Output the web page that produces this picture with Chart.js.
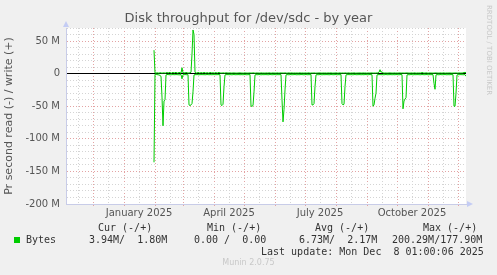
<!DOCTYPE html>
<html>
<head>
<meta charset="utf-8">
<script src="https://cdn.jsdelivr.net/npm/chart.js@4.4.1/dist/chart.umd.min.js"></script>
<style>
  html, body { margin: 0; padding: 0; background: #f0f0f0; }
  #wrap { position: relative; width: 497px; height: 275px; overflow: hidden; }
  #diskChart { position: absolute; left: 0; top: 0; }
  .t { position: absolute; white-space: pre; }
  .mono { font-family: "DejaVu Sans Mono", monospace; font-size: 10px; line-height: 12px; color: #333; }
  #title { left: 0; width: 497px; top: 10px; text-align: center; font-family: "DejaVu Sans", sans-serif; font-size: 13px; line-height: 16px; color: #555; }
  #munin { left: 0; width: 497px; top: 258px; text-align: center; font-family: "DejaVu Sans", sans-serif; font-size: 8px; line-height: 10px; color: #c8c8c8; }
  #rrd { left: 484px; top: 5px; writing-mode: vertical-rl; font-family: "DejaVu Sans", sans-serif; font-size: 7px; line-height: 9px; color: #c8c8c8; }
  #swatch { position: absolute; left: 14px; top: 237px; width: 6px; height: 6px; background: #00cc00; }
</style>
</head>
<body>
<div id="wrap">
  <canvas id="diskChart" width="497" height="275"></canvas>
  <div class="t" id="title">Disk throughput for /dev/sdc - by year</div>
  <div class="t" id="rrd">RRDTOOL / TOBI OETIKER</div>
  <div class="t mono" style="left:98px;top:222px">Cur (-/+)</div>
  <div class="t mono" style="left:207px;top:222px">Min (-/+)</div>
  <div class="t mono" style="left:315px;top:222px">Avg (-/+)</div>
  <div class="t mono" style="left:423px;top:222px">Max (-/+)</div>
  <div id="swatch"></div>
  <div class="t mono" style="left:26px;top:234px">Bytes</div>
  <div class="t mono" style="left:89px;top:234px">3.94M/  1.80M</div>
  <div class="t mono" style="left:194px;top:234px">0.00 /  0.00</div>
  <div class="t mono" style="left:299px;top:234px">6.73M/  2.17M</div>
  <div class="t mono" style="left:392px;top:234px">200.29M/177.90M</div>
  <div class="t mono" style="left:261px;top:246px">Last update: Mon Dec  8 01:00:06 2025</div>
  <div class="t" id="munin">Munin 2.0.75</div>
</div>
<script>
// 400 day window, one sample per day, values in MB/s
const windowStart = "2024-11-04";
const windowDays = 400;
const dataStart = "2025-01-31";

// read is drawn negative, write positive
const readValues = [
  -136, -1, -1, -1.2, -2, -1.8, -3, -4, -36, -80,
  -42, -40, -2, -1.5, -1.2, -1.8, -1.5, -2, -1.4, -1.6,
  -1.5, -1.8, -1.3, -1.7, -1.5, -2, -1.6, -1.4, -8, -1.5,
  -1.7, -1.4, -1.6, -1.8, -1.5, -48, -49, -48, -46, -28,
  -2, -1.5, -1.7, -1.4, -1.6, -1.8, -1.5, -1.6, -1.4, -1.7,
  -1.5, -1.8, -1.6, -1.4, -1.5, -1.7, -1.6, -1.5, -1.8, -1.4,
  -1.6, -1.5, -1.7, -1.5, -1.6, -1.4, -1.8, -48, -49, -47,
  -20, -2, -1.5, -1.6, -1.4, -1.7, -1.5, -1.6, -1.8, -1.5,
  -1.4, -1.6, -1.7, -1.5, -1.6, -1.4, -1.8, -1.5, -1.6, -1.7,
  -1.5, -1.4, -1.6, -1.8, -1.5, -1.6, -1.4, -50, -50, -49,
  -28, -2, -1.5, -1.7, -1.6, -1.4, -1.5, -1.8, -1.6, -1.5,
  -1.7, -1.4, -1.6, -1.5, -1.8, -1.6, -1.4, -1.5, -1.7, -1.6,
  -1.5, -1.4, -1.8, -1.6, -1.5, -1.7, -1.4, -1.6, -40, -74,
  -55, -25, -2, -1.5, -1.6, -1.8, -1.4, -1.5, -1.7, -1.6,
  -1.5, -1.4, -1.6, -1.8, -1.5, -1.7, -1.6, -1.4, -1.5, -1.6,
  -1.8, -1.5, -1.4, -1.6, -1.7, -1.5, -1.6, -1.4, -48, -48,
  -46, -20, -2, -1.5, -1.7, -1.6, -1.4, -1.5, -1.8, -1.6,
  -1.5, -1.7, -1.4, -1.6, -1.5, -1.8, -1.6, -1.4, -1.5, -1.7,
  -1.6, -1.5, -1.4, -1.8, -1.6, -1.5, -1.7, -1.4, -46, -48,
  -47, -20, -2, -1.5, -1.6, -1.4, -1.7, -1.5, -1.6, -1.8,
  -1.5, -1.4, -1.6, -1.7, -1.5, -1.6, -1.4, -1.8, -1.5, -1.6,
  -1.7, -1.4, -1.5, -1.6, -1.8, -1.5, -1.4, -1.6, -1.7, -50,
  -48, -38, -30, -2, -1.5, -1.6, -1.4, -1.7, -1.5, -1.6,
  -1.8, -1.5, -1.4, -1.6, -1.7, -1.5, -1.6, -1.4, -1.8, -1.5,
  -1.6, -1.7, -1.4, -1.5, -1.6, -1.8, -1.5, -1.4, -1.6, -54,
  -42, -39, -37, -2, -1.5, -1.7, -1.6, -1.4, -1.5, -1.8,
  -1.6, -1.5, -1.7, -1.4, -1.6, -1.5, -1.8, -1.6, -1.4, -1.5,
  -1.7, -1.6, -1.5, -1.4, -1.8, -1.6, -1.5, -1.7, -1.4, -1.6,
  -15, -24, -2, -1.5, -1.6, -1.8, -1.4, -1.5, -1.7, -1.6,
  -1.5, -1.4, -1.6, -1.8, -1.5, -1.7, -1.6, -1.4, -1.5, -1.6,
  -50, -50, -30, -2, -1.5, -1.7, -1.4, -1.6, -1.5, -1.8,
  -1.6, -1.5, -4
];

const writeValues = [
  36, 1, 0.8, 1.2, 1, 0.6, 1.5, 1, 0.8, 1,
  1.2, 0.8, 1, 2, 0.8, 1.5, 2, 0.6, 1, 2.2,
  0.8, 1.4, 2, 1, 0.7, 2.1, 1.2, 0.8, 9, 1,
  1.5, 0.8, 2, 1.2, 0.9, 1, 1.3, 2, 30, 67,
  60, 2, 1, 0.8, 2, 1.2, 0.7, 1.8, 1, 0.9,
  2, 1.1, 0.8, 1.6, 1, 0.7, 2, 1.2, 0.9, 1.5,
  0.8, 1, 1.8, 0.7, 1.2, 2, 0.9, 1, 0.8, 1.2,
  1, 0.7, 1.5, 0.9, 1.1, 0.8, 1.3, 0.7, 1, 0.9,
  1.2, 0.8, 1, 0.7, 1.1, 0.9, 1.3, 0.8, 1, 0.7,
  0.9, 1.2, 0.8, 1, 0.7, 1.1, 0.9, 1, 0.8, 1.2,
  1, 0.7, 0.9, 1.1, 0.8, 1, 0.7, 1.2, 0.9, 0.8,
  1, 0.7, 1.1, 0.9, 0.8, 1.2, 1, 0.7, 0.9, 1.1,
  0.8, 1, 0.7, 1.2, 0.9, 0.8, 1, 1.1, 0.9, 1,
  0.8, 1.2, 0.9, 0.7, 1, 1.1, 0.8, 0.9, 1.2, 0.7,
  1, 0.9, 0.8, 1.1, 0.7, 1, 1.2, 0.8, 0.9, 1,
  0.7, 1.1, 0.9, 0.8, 1, 1.2, 0.7, 0.9, 1, 0.8,
  1.1, 0.9, 0.7, 1, 0.8, 1.2, 0.9, 1, 0.7, 1.1,
  0.8, 1, 0.9, 0.7, 1.2, 0.8, 1, 1.1, 0.9, 0.7,
  1, 0.8, 1.2, 0.9, 0.7, 1, 1.1, 0.8, 0.9, 1,
  0.7, 1.2, 0.9, 0.8, 1, 1.1, 0.7, 0.9, 1, 0.8,
  1.2, 0.9, 0.7, 1, 0.8, 1.1, 0.9, 1, 0.7, 1.2,
  0.8, 1, 0.9, 0.7, 1.1, 0.8, 1, 0.9, 1.2, 0.7,
  1, 0.8, 0.9, 1.1, 1, 2, 6, 2, 3, 1,
  0.9, 0.8, 1.1, 0.7, 1, 0.9, 1.2, 0.8, 1, 0.7,
  1.1, 0.9, 0.8, 1, 0.7, 1.2, 0.9, 1, 0.8, 1.1,
  0.7, 1, 0.9, 1.2, 0.8, 1, 0.7, 1.1, 0.9, 0.8,
  1, 1.2, 0.7, 0.9, 1, 0.8, 1.1, 0.7, 2, 1,
  0.9, 0.8, 1.2, 1, 0.7, 0.9, 1.1, 0.8, 1, 0.7,
  1, 0.9, 1.2, 0.8, 1, 0.7, 1.1, 0.9, 0.8, 1,
  1.2, 0.7, 0.9, 1, 0.8, 1.1, 0.9, 1, 0.7, 1,
  0.8, 1.1, 0.9, 1, 0.7, 1.2, 0.8, 1, 0.9, 1.1,
  1.8, 1.8, 1.8
];

const xTickDates = ["2025-01-16", "2025-04-16", "2025-07-16", "2025-10-16"];
const xTickLabels = ["January 2025", "April 2025", "July 2025", "October 2025"];

const yMin = -200;
const yMax = 70;

const RED = "#e3a3a3";
const GRAY = "#d4d4d4";
const GREEN = "#00cc00";

function dayOf(dateStr) {
  return Math.round((Date.parse(dateStr) - Date.parse(windowStart)) / 86400000);
}

// month starts get the red grid, the 16th of each month a gray one
const majorDays = [];
const minorDays = [];
for (let m = 10; m <= 23; m++) {
  const y = 2024 + Math.floor(m / 12);
  const mm = String((m % 12) + 1).padStart(2, "0");
  const first = dayOf(`${y}-${mm}-01`);
  const mid = dayOf(`${y}-${mm}-16`);
  if (first > 0 && first < windowDays) majorDays.push(first);
  if (mid > 0 && mid < windowDays) minorDays.push(mid);
}

const xLabelByDay = {};
xTickDates.forEach((d, i) => {
  xLabelByDay[dayOf(d)] = xTickLabels[i];
});

const first = dayOf(dataStart);
const readPoints = readValues.map((v, i) => ({ x: first + i, y: v }));
const writePoints = writeValues.map((v, i) => ({ x: first + i, y: v }));

const plotDecor = {
  id: "plotDecor",
  beforeDraw(chart) {
    const { ctx, chartArea } = chart;
    ctx.save();
    ctx.fillStyle = "#ffffff";
    ctx.fillRect(chartArea.left, chartArea.top, chartArea.right - chartArea.left, chartArea.bottom - chartArea.top);
    ctx.restore();
  },
  afterDraw(chart) {
    const { ctx, chartArea } = chart;
    ctx.save();
    ctx.fillStyle = "#c4ccf4";
    // arrow on top of the value axis
    ctx.beginPath();
    ctx.moveTo(chartArea.left - 3, chartArea.top - 1);
    ctx.lineTo(chartArea.left + 3, chartArea.top - 1);
    ctx.lineTo(chartArea.left, chartArea.top - 7);
    ctx.fill();
    // arrow at the end of the time axis
    ctx.beginPath();
    ctx.moveTo(chartArea.right + 1, chartArea.bottom - 3);
    ctx.lineTo(chartArea.right + 1, chartArea.bottom + 3);
    ctx.lineTo(chartArea.right + 7, chartArea.bottom);
    ctx.fill();
    ctx.restore();
  }
};

Chart.defaults.font.family = "DejaVu Sans";

new Chart(document.getElementById("diskChart"), {
  type: "line",
  data: {
    datasets: [
      { label: "read", data: readPoints, borderColor: GREEN, borderWidth: 1, pointRadius: 0, tension: 0 },
      { label: "write", data: writePoints, borderColor: GREEN, borderWidth: 1, pointRadius: 0, tension: 0 }
    ]
  },
  options: {
    responsive: false,
    animation: false,
    layout: { padding: { left: 0, top: 28, right: 31, bottom: 51 } },
    plugins: {
      legend: { display: false },
      tooltip: { enabled: false }
    },
    scales: {
      x: {
        type: "linear",
        min: 0,
        max: windowDays,
        afterBuildTicks: (scale) => {
          scale.ticks = majorDays.concat(minorDays).sort((a, b) => a - b).map(v => ({ value: v }));
        },
        afterFit: (scale) => { scale.height = 20; },
        ticks: {
          autoSkip: false,
          maxRotation: 0,
          padding: 1,
          color: "#555",
          font: { size: 10 },
          callback: (value) => xLabelByDay[value] || ""
        },
        grid: {
          color: (c) => (c.tick && majorDays.includes(c.tick.value) ? RED : GRAY),
          tickColor: (c) => (c.tick && majorDays.includes(c.tick.value) ? RED : "rgba(0,0,0,0)"),
          tickLength: 2
        },
        border: { color: "#c8cce8", dash: (c) => (c.tick ? [1, 2] : []) }
      },
      y: {
        min: yMin,
        max: yMax,
        afterBuildTicks: (scale) => {
          const ticks = [];
          for (let v = yMin; v <= yMax; v += 10) ticks.push({ value: v });
          scale.ticks = ticks;
        },
        afterFit: (scale) => { scale.width = 66; },
        ticks: {
          autoSkip: false,
          padding: 6,
          color: "#555",
          font: { size: 10 },
          callback: (v) => (v % 50 === 0 ? (v === 0 ? "0" : v + " M") : "")
        },
        grid: {
          drawTicks: false,
          color: (c) => {
            if (!c.tick) return GRAY;
            if (c.tick.value === 0) return "#000000";
            return c.tick.value % 50 === 0 ? RED : GRAY;
          }
        },
        border: {
          color: "#c8cce8",
          dash: (c) => (c.tick && c.tick.value !== 0 ? [1, 2] : [])
        },
        title: {
          display: true,
          text: "Pr second read (-) / write (+)",
          color: "#555",
          font: { size: 11 },
          padding: { top: 3, bottom: 0 }
        }
      }
    }
  },
  plugins: [plotDecor]
});
</script>
</body>
</html>
